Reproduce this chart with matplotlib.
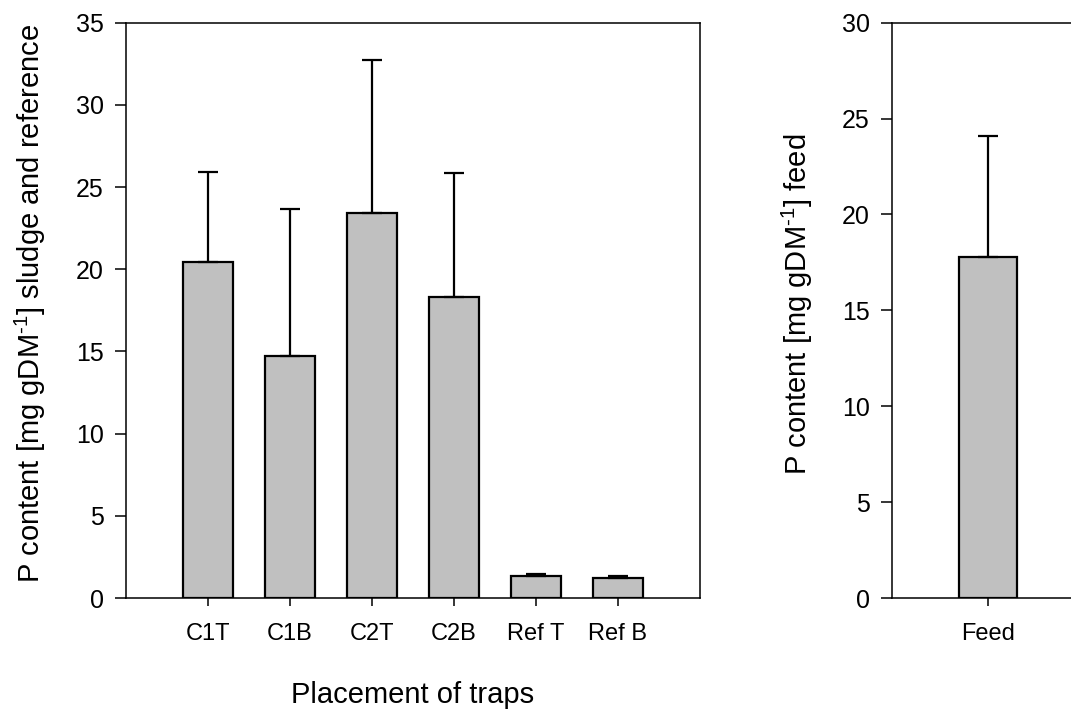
import matplotlib
matplotlib.use("Agg")
import matplotlib.pyplot as plt
import numpy as np

# values
traps = ['C1T', 'C1B', 'C2T', 'C2B', 'Ref T', 'Ref B']
trap_mean = [20.45, 14.75, 23.45, 18.3, 1.36, 1.22]
trap_err = [5.45, 8.9, 9.3, 7.55, 0.12, 0.12]

feed = ['Feed']
feed_mean = [17.8]
feed_err = [6.3]

plt.rcParams['font.family'] = ['Liberation Sans', 'DejaVu Sans']
plt.rcParams['mathtext.fontset'] = 'custom'
plt.rcParams['mathtext.rm'] = 'Liberation Sans'
plt.rcParams['mathtext.default'] = 'regular'

W, H = 1071, 709
fig = plt.figure(figsize=(W / 100, H / 100), dpi=100)

bar_kw = dict(width=0.6, color='#c0c0c0', edgecolor='black', linewidth=1.6,
              error_kw=dict(elinewidth=1.6, capthick=1.6, capsize=7, ecolor='black'))


def style(ax, ymax):
    for s in ax.spines.values():
        s.set_linewidth(1.1)
    ax.set_ylim(0, ymax)
    ax.set_yticks(np.arange(0, ymax + 1, 5))
    ax.tick_params(axis='y', direction='out', length=8, width=1.1, labelsize=18, pad=8)
    ax.tick_params(axis='x', direction='out', length=6, width=1.1, labelsize=17, pad=12)


ax1 = fig.add_axes([126 / W, 1 - 598 / H, 574 / W, 575.3 / H])
x1 = np.arange(1, len(traps) + 1)
ax1.bar(x1, trap_mean, yerr=[np.zeros(len(trap_err)), trap_err], **bar_kw)
ax1.set_xlim(0, len(traps) + 1)
ax1.set_xticks(x1)
ax1.set_xticklabels(traps)
style(ax1, 35)
ax1.set_xlabel('Placement of traps', fontsize=21)
ax1.xaxis.set_label_coords(0.5, -0.145)
ax1.set_ylabel(r'P content [mg gDM$^{\text{-1}}$] sludge and reference', fontsize=21)
ax1.yaxis.set_label_coords(-0.136, 0.512)

ax2 = fig.add_axes([892 / W, 1 - 598 / H, 192 / W, 575.3 / H])
x2 = np.arange(1, len(feed) + 1)
ax2.bar(x2, feed_mean, yerr=[np.zeros(len(feed_err)), feed_err], **bar_kw)
ax2.set_xlim(0, len(feed) + 1)
ax2.set_xticks(x2)
ax2.set_xticklabels(feed)
style(ax2, 30)
ax2.set_ylabel(r'P content [mg gDM$^{\text{-1}}$] feed', fontsize=21)
ax2.yaxis.set_label_coords(-0.40, 0.51)

fig.savefig('out.png', dpi=100)
